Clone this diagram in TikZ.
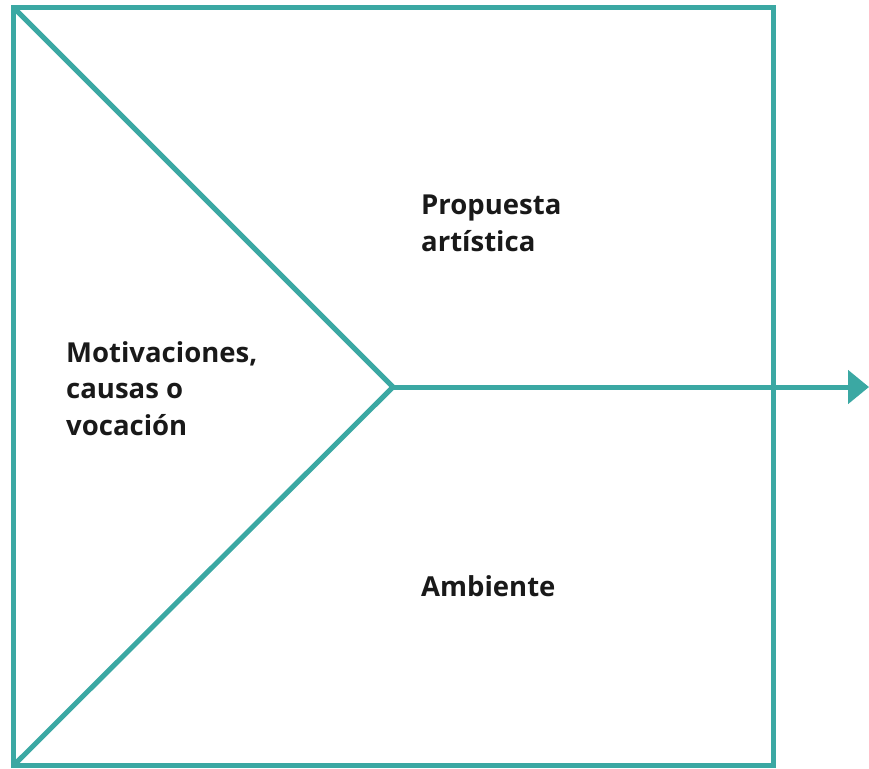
\documentclass[tikz,border=0pt]{standalone}
\usepackage{fontspec}
\setsansfont{Open Sans}
\usetikzlibrary{positioning}
\usetikzlibrary{calc}
\usetikzlibrary{arrows.meta}
\definecolor{teal1}{RGB}{59,168,163}

\tikzset{
  frame/.style={draw=teal1, line width=5pt},
  label1/.style={font=\sffamily\bfseries\fontsize{27.5}{36.5}\selectfont, align=left, inner sep=0pt, anchor=base west, text=black!90}
}

\begin{document}
\begin{tikzpicture}[x=1pt, y=-1pt]
            \useasboundingbox (0,0) rectangle (869,768);
            \coordinate (tl) at (13.5,7.5);
            \coordinate (br) at (773.5,765.5);
            \coordinate (bl) at (13.5,765.5);
            \coordinate (mid) at (393,387);
            \coordinate (tip) at (869,387);

            \draw[frame] (tl) rectangle (br);
            \draw[frame] (tl) -- (mid);
            \draw[frame] (bl) -- (mid);
            \draw[frame, -{Triangle[length=21pt, width=33pt]}] (mid) -- (tip);

            % base anchor sits on the last line
            \node[label1] (motiv) at (66,435) {Motivaciones,\\causas o\\vocación};
            \node[label1] (prop) at (421,251) {Propuesta\\artística};
            \node[label1] (amb) at (421,596) {Ambiente};
        \end{tikzpicture}
\end{document}
